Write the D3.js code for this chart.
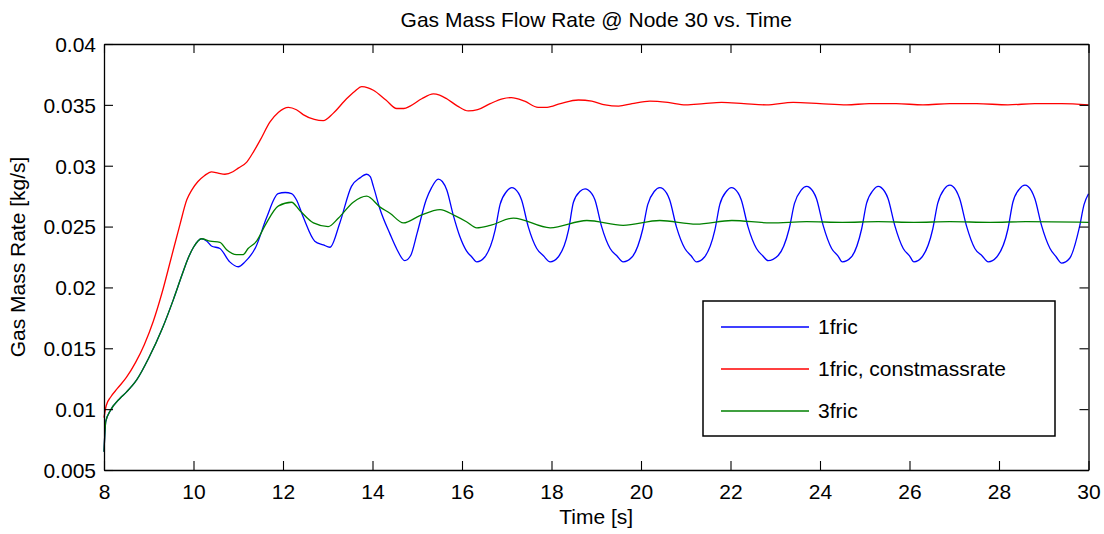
<!DOCTYPE html>
<html>
<head>
<meta charset="utf-8">
<script src="https://cdn.jsdelivr.net/npm/d3@7/dist/d3.min.js"></script>
<style>
  html, body { margin: 0; padding: 0; background: #fff; }
  svg text { font-family: "Liberation Sans", Arial, Helvetica, sans-serif; fill: #000; }
</style>
</head>
<body>
<svg id="chart" width="1104" height="534"></svg>
<script>
// ---- data ----
const titleText = "Gas Mass Flow Rate @ Node 30 vs. Time";
const xLabel = "Time [s]";
const yLabel = "Gas Mass Rate [kg/s]";
const xTicks = [8, 10, 12, 14, 16, 18, 20, 22, 24, 26, 28, 30];
const yTicks = [0.005, 0.01, 0.015, 0.02, 0.025, 0.03, 0.035, 0.04];
const seriesNames = ["1fric", "1fric, constmassrate", "3fric"];
const seriesColors = ["#0000ff", "#ff0000", "#008000"];

// 1fric  [time, rate]
const fric1 = [
  [8.00,0.0065],[8.04,0.0090],[8.13,0.0098],[8.36,0.0109],[8.5,0.0114],[8.73,0.0124],
  [9.0,0.0142],[9.3,0.0166],[9.55,0.0190],[9.75,0.0211],[9.88,0.0224],[10.0,0.0233],
  [10.18,0.0240],[10.3,0.0238],[10.4,0.0234],[10.59,0.0232],[10.81,0.0221],[11.0,0.0217],
  [11.15,0.0221],[11.39,0.0233],[11.63,0.0257],[11.89,0.0277],[12.05,0.0278],[12.19,0.0277],
  [12.3,0.0272],[12.45,0.0258],[12.71,0.0238],[12.9,0.0235],[13.05,0.0233],[13.27,0.0253],
  [13.53,0.0283],[13.72,0.0290],[13.87,0.0293],[13.95,0.0291],[14.02,0.0283],[14.17,0.0264],
  [14.39,0.0244],[14.55,0.0231],[14.72,0.0222],[14.85,0.0226],[15.0,0.0245],[15.2,0.0272],
  [15.32,0.0282],[15.47,0.0289],[15.56,0.0287],[15.66,0.0280],[15.8,0.0260],[15.95,0.0242],
  [16.1,0.0230],[16.22,0.0225],
  [16.33,0.0221],[16.51,0.0225],[16.74,0.0247],[16.85,0.0268],[17.00,0.0279],[17.11,0.0282],
  [17.18,0.0281],[17.33,0.0272],[17.48,0.0250],[17.67,0.0232],[17.82,0.0226],
  [17.97,0.0221],[18.15,0.0225],[18.38,0.0247],[18.49,0.0270],[18.64,0.0279],[18.75,0.0281],
  [18.82,0.0280],[18.97,0.0272],[19.12,0.0250],[19.31,0.0232],[19.46,0.0226],
  [19.60,0.0221],[19.80,0.0225],[20.04,0.0248],[20.15,0.0268],[20.30,0.0279],[20.42,0.0282],
  [20.49,0.0281],[20.64,0.0272],[20.79,0.0250],[20.98,0.0232],[21.12,0.0226],
  [21.24,0.0221],[21.42,0.0225],[21.65,0.0247],[21.76,0.0268],[21.91,0.0279],[22.02,0.0282],
  [22.09,0.0281],[22.24,0.0272],[22.39,0.0250],[22.58,0.0232],[22.72,0.0226],
  [22.84,0.0222],[23.06,0.0226],[23.31,0.0248],[23.43,0.0269],[23.58,0.0280],[23.70,0.0283],
  [23.77,0.0282],[23.92,0.0273],[24.07,0.0251],[24.26,0.0232],[24.40,0.0226],
  [24.50,0.0221],[24.70,0.0225],[24.93,0.0248],[25.04,0.0269],[25.19,0.0280],[25.30,0.0283],
  [25.37,0.0282],[25.52,0.0273],[25.67,0.0251],[25.86,0.0232],[26.00,0.0226],
  [26.10,0.0221],[26.28,0.0225],[26.52,0.0248],[26.63,0.0269],[26.78,0.0281],[26.90,0.0284],
  [26.97,0.0283],[27.12,0.0273],[27.27,0.0251],[27.46,0.0232],[27.62,0.0226],
  [27.76,0.0221],[27.95,0.0225],[28.20,0.0248],[28.31,0.0270],[28.46,0.0281],[28.58,0.0284],
  [28.65,0.0283],[28.80,0.0273],[28.95,0.0251],[29.14,0.0232],[29.28,0.0225],
  [29.40,0.0220],[29.58,0.0224],[29.80,0.0250],[29.90,0.0268],[30.00,0.0277]
];

// 1fric, constmassrate
const fric1Const = [
  [8.00,0.0093],[8.05,0.0103],[8.15,0.0110],[8.3,0.0117],[8.5,0.0126],[8.7,0.0138],
  [8.9,0.0153],[9.1,0.0172],[9.3,0.0196],[9.5,0.0224],[9.7,0.0252],[9.85,0.0272],
  [9.96,0.0280],[10.1,0.0287],[10.25,0.0292],[10.4,0.0295],[10.55,0.0294],[10.7,0.0293],
  [10.88,0.0295],[11.0,0.0298],[11.19,0.0303],[11.35,0.0312],[11.49,0.0321],[11.71,0.0336],
  [11.9,0.0344],[12.12,0.0348],[12.3,0.0346],[12.45,0.0342],[12.7,0.0338],[12.9,0.0337],
  [13.12,0.0343],[13.42,0.0355],[13.6,0.0361],[13.76,0.0365],[13.9,0.0364],[14.02,0.0362],
  [14.3,0.0354],[14.54,0.0347],[14.7,0.0347],[14.84,0.0349],[15.1,0.0355],[15.36,0.0359],
  [15.5,0.0358],[15.66,0.0355],[15.9,0.0349],[16.14,0.0345],[16.35,0.0346],[16.63,0.0351],
  [16.9,0.0355],[17.1,0.0356],[17.4,0.0353],[17.7,0.0348],[17.9,0.0348],[18.2,0.0351],
  [18.6,0.0354],[18.9,0.0353],[19.2,0.0350],[19.5,0.0349],[19.8,0.0351],[20.2,0.0353],
  [20.6,0.0352],[21.0,0.0350],[21.4,0.0351],[21.8,0.0352],[22.3,0.0351],[22.8,0.0350],
  [23.4,0.0352],[24.0,0.0351],[24.6,0.0350],[25.1,0.0351],[25.7,0.0351],[26.3,0.0350],
  [26.9,0.0351],[27.5,0.0351],[28.2,0.0350],[28.8,0.0351],[29.4,0.0351],[30.0,0.0350]
];

// 3fric
const fric3 = [
  [8.00,0.0065],[8.04,0.0090],[8.13,0.0098],[8.36,0.0109],[8.5,0.0114],[8.73,0.0124],
  [9.0,0.0142],[9.3,0.0166],[9.55,0.0190],[9.75,0.0211],[9.88,0.0224],[10.0,0.0233],
  [10.18,0.0240],[10.37,0.0238],[10.59,0.0237],[10.74,0.0231],[10.96,0.0227],[11.11,0.0227],
  [11.22,0.0232],[11.41,0.0238],[11.6,0.0251],[11.9,0.0267],[12.19,0.0270],[12.38,0.0263],
  [12.68,0.0253],[13.01,0.0250],[13.24,0.0257],[13.57,0.0270],[13.87,0.0275],[14.17,0.0266],
  [14.39,0.0261],[14.69,0.0253],[15.06,0.0259],[15.51,0.0264],[15.84,0.0259],[16.1,0.0254],
  [16.33,0.0249],[16.63,0.0251],[17.15,0.0257],[17.97,0.0249],[18.79,0.0255],[19.6,0.0251],
  [20.42,0.0255],[21.24,0.0252],[22.03,0.0255],[22.9,0.0253],[23.7,0.0254],[24.5,0.02535],
  [25.3,0.0254],[26.1,0.02535],[26.9,0.0254],[27.8,0.02535],[28.6,0.0254],[30.0,0.02535]
];

const allSeries = [fric1, fric1Const, fric3];

// ---- layout ----
const mLeft = 104, mRight = 1088.5, mTop = 44, mBottom = 470;
const svg = d3.select("#chart");

const x = d3.scaleLinear().domain([8, 30]).range([mLeft, mRight]);
const y = d3.scaleLinear().domain([0.005, 0.04]).range([mBottom, mTop]);

const fs = 21;
const tickLen = 9;

// lines
const line = d3.line().x(d => x(d[0])).y(d => y(d[1])).curve(d3.curveMonotoneX);
const plot = svg.append("g");
allSeries.forEach((s, i) => {
  plot.append("path")
    .datum(s)
    .attr("d", line)
    .attr("fill", "none")
    .attr("stroke", seriesColors[i])
    .attr("stroke-width", 1.3)
    .attr("stroke-linejoin", "round");
});

// axes
function styleAxis(g) {
  g.selectAll("path.domain").attr("stroke", "#000").attr("stroke-width", 1.3);
  g.selectAll(".tick line").attr("stroke", "#000").attr("stroke-width", 1.1);
  g.selectAll("text").attr("font-size", fs).attr("font-family", null);
}
const fmtY = d => String(+d.toFixed(3));

const gx = svg.append("g").attr("transform", `translate(0,${mBottom})`)
  .call(d3.axisBottom(x).tickValues(xTicks).tickSizeInner(-tickLen).tickSizeOuter(0).tickFormat(d => d));
styleAxis(gx);
gx.selectAll(".tick text").attr("y", 28.5).attr("dy", null);

const gxt = svg.append("g").attr("transform", `translate(0,${mTop})`)
  .call(d3.axisTop(x).tickValues(xTicks).tickSizeInner(-tickLen).tickSizeOuter(0).tickFormat(""));
styleAxis(gxt);

const gy = svg.append("g").attr("transform", `translate(${mLeft},0)`)
  .call(d3.axisLeft(y).tickValues(yTicks).tickSizeInner(-tickLen).tickSizeOuter(0).tickFormat(fmtY));
styleAxis(gy);
gy.selectAll(".tick text").attr("x", -8).attr("dy", "0.35em");

const gyr = svg.append("g").attr("transform", `translate(${mRight},0)`)
  .call(d3.axisRight(y).tickValues(yTicks).tickSizeInner(-tickLen).tickSizeOuter(0).tickFormat(""));
styleAxis(gyr);

// titles
svg.append("text").attr("x", (mLeft + mRight) / 2).attr("y", 27)
  .attr("text-anchor", "middle").attr("font-size", fs).text(titleText);
svg.append("text").attr("x", (mLeft + mRight) / 2).attr("y", 524)
  .attr("text-anchor", "middle").attr("font-size", fs).text(xLabel);
svg.append("text")
  .attr("transform", `translate(25,${(mTop + mBottom) / 2}) rotate(-90)`)
  .attr("text-anchor", "middle").attr("font-size", fs).text(yLabel);

// legend
const lg = svg.append("g");
lg.append("rect").attr("x", 703).attr("y", 301).attr("width", 352).attr("height", 135)
  .attr("fill", "#fff").attr("stroke", "#000").attr("stroke-width", 1.5);
const rowY = [327, 369, 411];
seriesNames.forEach((n, i) => {
  lg.append("line").attr("x1", 721).attr("x2", 809).attr("y1", rowY[i]).attr("y2", rowY[i])
    .attr("stroke", seriesColors[i]).attr("stroke-width", 1.3);
  lg.append("text").attr("x", 818).attr("y", rowY[i]).attr("dy", "0.35em")
    .attr("font-size", fs).text(n);
});
</script>
</body>
</html>
